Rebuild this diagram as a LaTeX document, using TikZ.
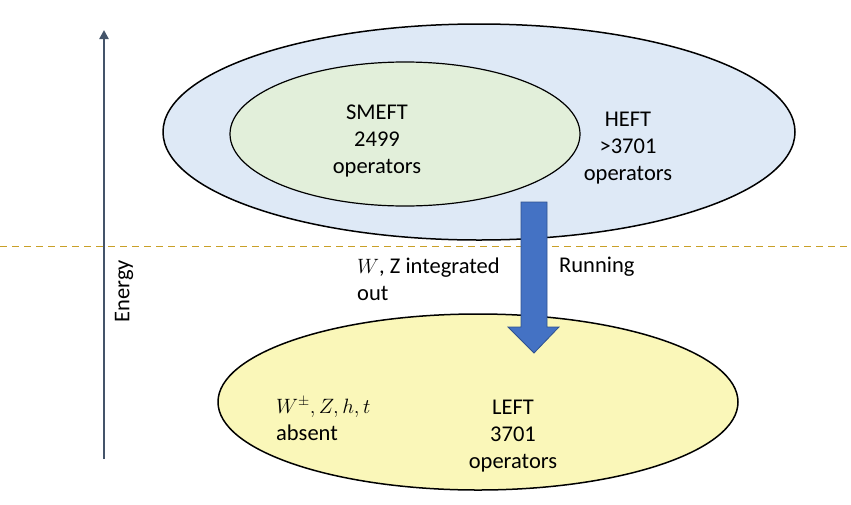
\documentclass[tikz,border=0pt]{standalone}
\usepackage{fontspec}
\setmainfont{Carlito}
\usetikzlibrary{arrows.meta}
\definecolor{outerblue}{RGB}{222,233,246}
\definecolor{innergreen}{RGB}{226,239,218}
\definecolor{lowyellow}{RGB}{250,247,185}
\definecolor{arrowblue}{RGB}{68,114,196}
\definecolor{arrowedge}{RGB}{47,82,143}
\definecolor{energyc}{RGB}{68,84,106}
\definecolor{dashc}{RGB}{201,160,40}
\tikzset{
  lbl/.style={font=\fontsize{22.5}{27}\selectfont, align=center, inner sep=0pt},
  lbll/.style={font=\fontsize{22.5}{27}\selectfont, align=left, inner sep=0pt, anchor=west},
  blob/.style={draw=black, line width=1.5pt},
}
\begin{document}
\begin{tikzpicture}[x=1pt,y=-1pt]
\useasboundingbox (0,0) rectangle (851,504);
% ellipses
\draw[blob, fill=outerblue] (479,132) ellipse [x radius=316, y radius=108];
\draw[blob, fill=innergreen, line width=1.2pt] (405,134) ellipse [x radius=175, y radius=72];
\draw[blob, fill=lowyellow] (478,402) ellipse [x radius=260, y radius=88];
% dashed line
\coordinate (dl) at (0,246.5);
\coordinate (dr) at (851,246.5);
\draw[dashc, dashed, line width=1.3pt, dash pattern=on 7pt off 5pt] (dl) -- (dr);
% energy axis
\coordinate (eb) at (104,459);
\coordinate (et) at (104,30);
\draw[energyc, line width=2.6pt, -{Triangle[length=9pt,width=9pt]}] (eb) -- (et);
\node[lbl, rotate=90] (energy) at (124,291) {Energy};
% block arrow
\draw[arrowedge, fill=arrowblue, line width=0.8pt]
  (521,202) -- (547,202) -- (547,327) -- (559,327) -- (534,353) -- (508,327) -- (521,327) -- cycle;
% labels
\node[lbl] (smeft) at (377,141) {SMEFT\\2499\\operators};
\node[lbl] (heft) at (628,148) {HEFT\\>3701\\operators};
\node[lbl] (left) at (513,436) {LEFT\\3701\\operators};
\node[lbll] (absent) at (276,419) {$W^{\pm}, Z, h, t$\\absent};
\node[lbll] (wz) at (357,279) {$W$, Z integrated\\out};
\node[lbll] (run) at (559,267) {Running};
\end{tikzpicture}
\end{document}
